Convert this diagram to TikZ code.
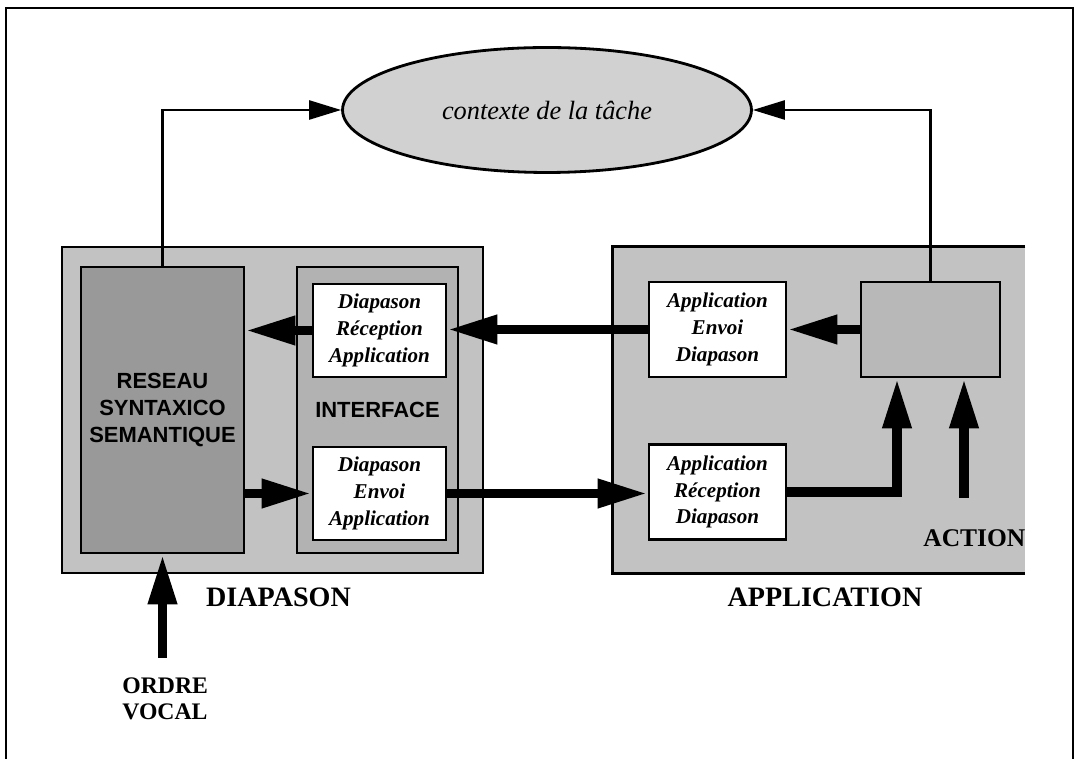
\documentclass[tikz,border=0pt]{standalone}
\usepackage{fontspec}
\setmainfont{Liberation Serif}
\setsansfont{Liberation Sans}
\usetikzlibrary{arrows.meta,shapes.geometric}

\definecolor{fondgris}{gray}{0.76}
\definecolor{reseaugris}{gray}{0.6}
\definecolor{interfacegris}{gray}{0.7}
\definecolor{tachegris}{gray}{0.72}
\definecolor{ctxgris}{gray}{0.82}

\begin{document}
\begin{tikzpicture}[
                x=0.02cm, y=-0.02cm,
                >={Triangle[length=0.64cm,width=0.38cm]},
                boite/.style={draw, line width=1.6pt, rectangle, inner sep=0pt},
                bloc/.style={boite, fill=white, align=center, font=\fontsize{12}{15.3}\selectfont\bfseries\itshape},
                gros/.style={line width=5.6pt, -{Triangle[length=1cm,width=0.54cm]}},
                fin/.style={line width=1.4pt, ->},
                titre/.style={font=\fontsize{16}{19}\selectfont\bfseries}
                ]

                \useasboundingbox (0,0) rectangle (1076,759);
                \draw[line width=1.2pt] (6,759) -- (6,8) -- (1073,8) -- (1073,759);

                \node[boite, fill=fondgris, minimum width=8.42cm, minimum height=6.52cm] (diapason) at (272.5,410) {};
                \node[fill=fondgris, inner sep=0pt, minimum width=8.24cm, minimum height=6.52cm] (application) at (819,410) {};
                \draw[line width=1.6pt] (application.north east) -- (application.north west) -- (application.south west) -- (application.south east);

                \node[boite, fill=reseaugris, minimum width=3.26cm, minimum height=5.72cm, align=center, font=\sffamily\bfseries\fontsize{12.5}{15.6}\selectfont] (reseau) at (162.5,410) {RESEAU\\SYNTAXICO\\SEMANTIQUE};
                \node[boite, fill=interfacegris, minimum width=3.22cm, minimum height=5.72cm, font=\sffamily\bfseries\fontsize{12.5}{15.6}\selectfont] (interface) at (377.5,410) {INTERFACE};
                \node[bloc, minimum width=2.66cm, minimum height=1.86cm] (drecep) at (379.5,330.5) {Diapason\\Réception\\Application};
                \node[bloc, minimum width=2.66cm, minimum height=1.86cm] (denvoi) at (379.5,493.5) {Diapason\\Envoi\\Application};
                \node[bloc, minimum width=2.74cm, minimum height=1.9cm] (aenvoi) at (717.5,329.5) {Application\\Envoi\\Diapason};
                \node[bloc, minimum width=2.74cm, minimum height=1.9cm] (arecep) at (717.5,492) {Application\\Réception\\Diapason};
                \node[boite, fill=tachegris, minimum width=2.78cm, minimum height=1.9cm] (tache) at (930.5,329.5) {};

                \node[ellipse, draw, line width=1.6pt, fill=ctxgris, inner sep=0pt, minimum width=8.18cm, minimum height=2.5cm, font=\fontsize{15}{18}\selectfont\itshape] (contexte) at (547,110) {contexte de la tâche};

                \node[titre] (ldiapason) at (278.5,597) {DIAPASON};
                \node[titre] (lapplication) at (825,597) {APPLICATION};
                \node[anchor=base west, inner sep=0pt, font=\fontsize{14.5}{17}\selectfont\bfseries] (laction) at (923,547) {ACTION};
                \node[anchor=north west, inner sep=0pt, align=left, font=\fontsize{13.5}{15.3}\selectfont\bfseries] (lordre) at (122,677) {ORDRE\\VOCAL};

                \coordinate (ordre) at (162.5,658);
                \coordinate (entree) at (964,498);

                \draw[fin] (reseau.north) |- (contexte.west);
                \draw[fin] (tache.north) |- (contexte.east);
                \draw[gros] (drecep.west) -- (reseau.east |- drecep.west);
                \draw[gros] (aenvoi.west) -- (drecep.east |- aenvoi.west);
                \draw[gros] (tache.west) -- (aenvoi.east);
                \draw[gros] (reseau.east |- denvoi.west) -- (denvoi.west);
                \draw[gros] (denvoi.east) -- (arecep.west |- denvoi.east);
                \draw[gros] (arecep.east) -| ([xshift=-0.67cm]tache.south);
                \draw[gros] (entree) -- (entree |- tache.south);
                \draw[gros] (ordre) -- (reseau.south);
            \end{tikzpicture}
\end{document}
